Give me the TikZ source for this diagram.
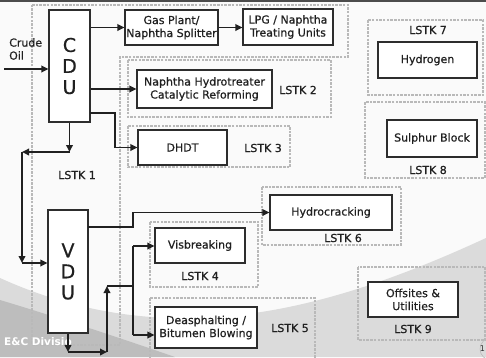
\documentclass[tikz,border=0pt]{standalone}
\usepackage{fontspec}
\setmainfont{DejaVu Sans}
\newfontfamily\heavier[FakeBold=0.6]{DejaVu Sans}
\usetikzlibrary{arrows.meta}
\begin{document}
\begin{tikzpicture}[x=1pt,y=-1pt,
  unitbox/.style={draw=gray!35!black, line width=1.1pt, fill=white, text=gray!25!black,
    inner sep=0pt, align=center, font=\heavier\fontsize{11}{13}\selectfont},
  bigbox/.style={unitbox, font=\heavier\fontsize{19}{21}\selectfont},
  pkg/.style={draw=gray!55, line width=1.3pt, dash pattern=on 2.5pt off 1.2pt},
  lbl/.style={text=gray!25!black, inner sep=0pt, font=\heavier\fontsize{11}{13}\selectfont},
  flow/.style={draw=gray!25!black, line width=1.8pt, -{Triangle[length=7pt,width=6.5pt]}},
  pipe/.style={draw=gray!25!black, line width=1.8pt}]
\useasboundingbox (0,0) rectangle (486,357);
% background
\fill[gray!4] (0,0) rectangle (486,357);
\fill[gray!28] (0,278) .. controls (170,355) and (330,310) .. (486,238) -- (486,357) -- (0,357) -- cycle;
\fill[gray!52] (0,300) .. controls (60,318) and (120,338) .. (175,357) -- (0,357) -- cycle;
\fill[gray!60!black] (0,0) rectangle (486,2);
% package boundaries
\draw[pkg] (32,5) -- (348,5) -- (348,57) -- (120,57) -- (120,345) -- (32,345) -- cycle;
\draw[pkg] (128,60) rectangle (331,117);
\draw[pkg] (128,126) rectangle (290,167);
\draw[pkg] (150,222) rectangle (258,287);
\draw[pkg] (150,298) rectangle (315,362);
\draw[pkg] (262,187) rectangle (401,245);
\draw[pkg] (368,20) rectangle (483,95);
\draw[pkg] (365,102) rectangle (485,178);
\draw[pkg] (358,267) rectangle (485,340);
% units
\node[bigbox, minimum width=41pt, minimum height=112pt] (cdu) at (69.5,66) {C\\D\\U};
\node[bigbox, minimum width=40pt, minimum height=123pt] (vdu) at (68,271.5) {V\\D\\U};
\node[unitbox, minimum width=93pt, minimum height=35pt] (gas) at (171.5,27.5) {Gas Plant/\\Naphtha Splitter};
\node[unitbox, minimum width=90pt, minimum height=36pt] (lpg) at (288,27) {LPG / Naphtha\\Treating Units};
\node[unitbox, minimum width=135pt, minimum height=38pt] (nht) at (204.5,89) {Naphtha Hydrotreater\\Catalytic Reforming};
\node[unitbox, minimum width=89pt, minimum height=35pt] (dhdt) at (182.5,147.5) {DHDT};
\node[unitbox, minimum width=99pt, minimum height=36pt] (h2) at (427.5,60) {Hydrogen};
\node[unitbox, minimum width=90pt, minimum height=37pt] (sul) at (432,138.5) {Sulphur Block};
\node[unitbox, minimum width=122pt, minimum height=35pt] (hc) at (331,212.5) {Hydrocracking};
\node[unitbox, minimum width=90pt, minimum height=35pt] (visb) at (200,245.5) {Visbreaking};
\node[unitbox, minimum width=102pt, minimum height=41pt] (deas) at (206,327.5) {Deasphalting /\\Bitumen Blowing};
\node[unitbox, minimum width=90pt, minimum height=35pt] (off) at (413,299.5) {Offsites \&\\Utilities};
% labels
\node[lbl] (l1) at (77,175) {LSTK 1};
\node[lbl] (l2) at (298,90) {LSTK 2};
\node[lbl] (l3) at (263,148) {LSTK 3};
\node[lbl] (l4) at (200,276) {LSTK 4};
\node[lbl] (l5) at (290,328) {LSTK 5};
\node[lbl] (l6) at (343,238) {LSTK 6};
\node[lbl] (l7) at (428,30) {LSTK 7};
\node[lbl] (l8) at (428,170) {LSTK 8};
\node[lbl] (l9) at (413,329) {LSTK 9};
\node[lbl, align=left, anchor=west] (crudetxt) at (9,49) {Crude\\Oil};
\node[inner sep=0pt, text=white, anchor=west, font=\bfseries\fontsize{10.5}{12}\selectfont] (ec) at (4,342) {E\&C Divisio};
\node[draw=gray!55, line width=0.6pt, circle, minimum size=22pt, inner sep=0pt] (pg) at (491,349) {};
\node[inner sep=0pt, text=gray!40!black, font=\fontsize{8}{9}\selectfont] (pgn) at (482.5,349) {1};
% coordinates
\coordinate (crude) at (4,69);
\coordinate (c1) at (90,113);
\coordinate (j1) at (115,130);
\coordinate (k1) at (22,152);
\coordinate (k2) at (22,263);
\coordinate (v1) at (88,227);
\coordinate (j2) at (133,218);
\coordinate (b1) at (107,352);
\coordinate (b2) at (107,286);
\coordinate (b3) at (133,286);
\coordinate (b4) at (133,335);
\coordinate (b5) at (133,246);
% connectors
\draw[flow] (crude) -- (cdu.west |- crude);
\draw[flow] (cdu.east |- gas) -- (gas.west);
\draw[flow] (gas.east) -- (lpg.west |- gas.east);
\draw[flow] (cdu.east |- nht) -- (nht.west);
\draw[flow] (c1) -| (j1) |- (dhdt.west);
\draw[flow] (cdu.south) -- (cdu.south |- k1);
\draw[flow] (cdu.south |- k1) -- (k1);
\draw[flow] (k1) -- (k2);
\draw[flow] (k2) -- (vdu.west |- k2);
\draw[flow] (v1) -| (j2) |- (hc.west);
\draw[flow] (vdu.south) -- (vdu.south |- b1);
\draw[flow] (vdu.south |- b1) -- (b1);
\draw[flow] (b1) -- (b2);
\draw[pipe] (b2) -- (b3);
\draw[pipe] (b5) -- (b4);
\draw[flow] (b5) -- (visb.west |- b5);
\draw[flow] (b4) -- (deas.west |- b4);
\end{tikzpicture}
\end{document}
